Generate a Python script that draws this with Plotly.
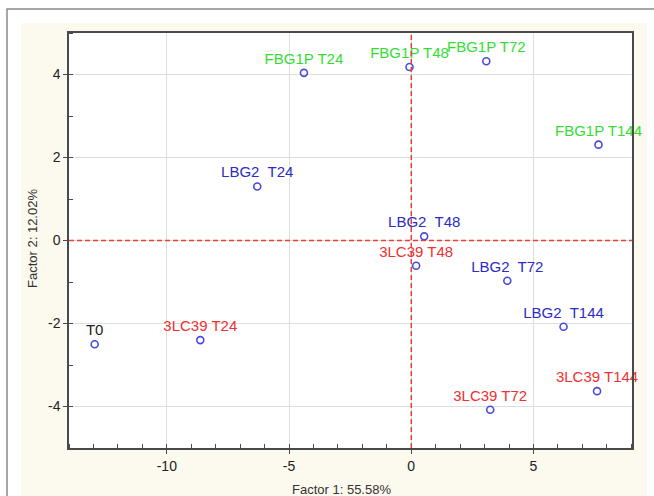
import plotly.graph_objects as go

# ---- data ----
labels = ["T0", "3LC39 T24", "LBG2\u00a0 T24", "FBG1P T24", "FBG1P T48", "FBG1P T72",
          "FBG1P T144", "LBG2\u00a0 T48", "3LC39 T48", "LBG2\u00a0 T72", "LBG2\u00a0 T144",
          "3LC39 T144", "3LC39 T72"]
factor1 = [-12.95, -8.63, -6.30, -4.39, -0.07, 3.07, 7.66, 0.53, 0.20, 3.93, 6.23, 7.60, 3.23]
factor2 = [-2.50, -2.40, 1.30, 4.04, 4.18, 4.32, 2.31, 0.10, -0.61, -0.97, -2.08, -3.63, -4.08]
groups = ["T0", "3LC39", "LBG2", "FBG1P", "FBG1P", "FBG1P", "FBG1P", "LBG2", "3LC39",
          "LBG2", "LBG2", "3LC39", "3LC39"]
x_ticks = [-10, -5, 0, 5]
x_ticktext = ["-10", "-5", "0", "5"]
y_ticks = [-4, -2, 0, 2, 4]
y_ticktext = ["-4", "-2", "0", "2", "4"]
x_title = "Factor 1: 55.58%"
y_title = "Factor 2: 12.02%"

group_colors = {"T0": "#222222", "3LC39": "#ee3030", "LBG2": "#2b2bc8", "FBG1P": "#33dd33"}

W, H = 654, 496
L, R, T, B = 69, 22, 33, 48
pw, ph = W - L - R, H - T - B


def px_x(p):
    return (p - L) / pw


def px_y(p):
    return (H - B - p) / ph


fig = go.Figure()
fig.add_trace(go.Scatter(
    x=factor1, y=factor2, mode="markers+text",
    text=labels, textposition="top center",
    textfont=dict(family="Liberation Sans, Arial", size=15,
                  color=[group_colors[g] for g in groups]),
    marker=dict(symbol="circle-open", size=7, color="#4a4ae0", line=dict(width=1.6)),
    cliponaxis=False, showlegend=False, hoverinfo="skip",
))

shapes = [
    # outer frame
    dict(type="rect", xref="paper", yref="paper", layer="below",
         x0=px_x(7), x1=px_x(700), y0=px_y(560), y1=px_y(9),
         line=dict(color="#8a8a8a", width=1.5), fillcolor="white"),
    # cream panel
    dict(type="rect", xref="paper", yref="paper", layer="below",
         x0=px_x(21), x1=px_x(647), y0=px_y(520), y1=px_y(23),
         line=dict(width=0), fillcolor="#fcf9ee"),
    # white plot area
    dict(type="rect", xref="paper", yref="paper", layer="below",
         x0=0, x1=1, y0=0, y1=1, line=dict(width=0), fillcolor="white"),
    # dashed zero lines
    dict(type="line", xref="x", yref="paper", x0=0, x1=0, y0=0, y1=1,
         line=dict(color="#e8403a", width=1.5, dash="5px,3px")),
    dict(type="line", xref="paper", yref="y", x0=0, x1=1, y0=0, y1=0,
         line=dict(color="#e8403a", width=1.5, dash="5px,3px")),
]

axis_common = dict(
    showline=True, linecolor="#4a4a4a", linewidth=1.5, mirror=True,
    showgrid=True, gridcolor="#dedede", gridwidth=1, zeroline=False,
    ticks="outside", ticklen=4, tickcolor="#4a4a4a",
    tickfont=dict(family="Liberation Sans, Arial", size=14, color="#222222"),
    minor=dict(ticks="inside", ticklen=4, dtick=1, tickcolor="#4a4a4a", showgrid=False),
)

fig.update_layout(
    width=W, height=H,
    margin=dict(l=L, r=R, t=T, b=B),
    paper_bgcolor="white", plot_bgcolor="rgba(0,0,0,0)",
    shapes=shapes,
    xaxis=dict(range=[-14, 9.03], tickvals=x_ticks, ticktext=x_ticktext, **axis_common),
    yaxis=dict(range=[-5, 5], tickvals=y_ticks, ticktext=y_ticktext, **axis_common),
    annotations=[
        dict(text=x_title, xref="paper", yref="paper", x=px_x(341), y=px_y(489),
             showarrow=False, xanchor="center", yanchor="middle",
             font=dict(family="Liberation Sans, Arial", size=13, color="#333333")),
        dict(text=y_title, xref="paper", yref="paper", x=px_x(32), y=px_y(239),
             showarrow=False, xanchor="center", yanchor="middle", textangle=-90,
             font=dict(family="Liberation Sans, Arial", size=13, color="#333333")),
    ],
)

fig.write_html("out.html", config={"displayModeBar": False},
               post_script="document.body.style.margin='0';document.body.style.overflow='hidden';")
